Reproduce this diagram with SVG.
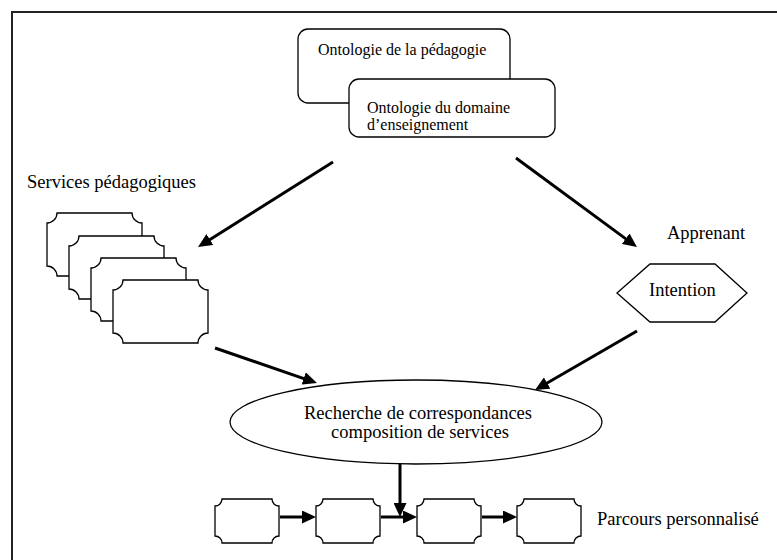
<svg xmlns="http://www.w3.org/2000/svg" width="777" height="560" viewBox="0 0 777 560">
  <style>
    .frame { fill: none; stroke: #222; stroke-width: 2; }
    .shape { fill: #fff; stroke: #000; stroke-width: 1.3; }
    text { font-family: 'Liberation Serif', 'Tinos', 'Times New Roman', 'DejaVu Serif', serif; fill: #000; }
    .lbl { font-size: 18.5px; }
    .lbl-sm { font-size: 16px; }
    .mid { text-anchor: middle; }
    .arrow { fill: none; stroke: #000; stroke-width: 3; marker-end: url(#head); }
  </style>
  <defs>
    <marker id="head" markerUnits="userSpaceOnUse" markerWidth="14" markerHeight="13" refX="4" refY="6.5" orient="auto">
      <path d="M0,0 L14,6.5 L0,13 Z" fill="#000"/>
    </marker>
    <!-- plaque outline with concave corners, large (service stack) -->
    <path id="plaque-lg" d="M10,0 H85 A10 10 0 0 0 95,10 V53 A10 10 0 0 0 85,63 H10 A10 10 0 0 0 0,53 V10 A10 10 0 0 0 10,0 Z"/>
    <!-- plaque outline, small (path steps) -->
    <path id="plaque-sm" d="M7,0 H57 A7 7 0 0 0 64,7 V37 A7 7 0 0 0 57,44 H7 A7 7 0 0 0 0,37 V7 A7 7 0 0 0 7,0 Z"/>
  </defs>

  <rect width="777" height="560" fill="#fff"/>
  <path class="frame" d="M12,560 V12 H777"/>

  <g id="ontologie-pedagogie">
    <rect class="shape" x="298" y="29" width="212" height="74" rx="10" ry="10"/>
    <text class="lbl-sm" x="318" y="55" font-family="Liberation Serif, serif">Ontologie de la pédagogie</text>
  </g>

  <g id="ontologie-domaine">
    <rect class="shape" x="349" y="79" width="206" height="58" rx="10" ry="10"/>
    <text class="lbl-sm" x="367" y="112.5" font-family="Liberation Serif, serif">Ontologie du domaine</text>
    <text class="lbl-sm" x="367" y="130" font-family="Liberation Serif, serif">d’enseignement</text>
  </g>

  <g id="services-pedagogiques">
    <text class="lbl" x="27" y="188" font-family="Liberation Serif, serif">Services pédagogiques</text>
    <use href="#plaque-lg" class="shape" x="47" y="213"/>
    <use href="#plaque-lg" class="shape" x="69" y="236"/>
    <use href="#plaque-lg" class="shape" x="91" y="258"/>
    <use href="#plaque-lg" class="shape" x="113" y="280"/>
  </g>

  <g id="apprenant">
    <text class="lbl" x="667" y="239" font-family="Liberation Serif, serif">Apprenant</text>
    <polygon class="shape" points="617,293 650,264 715,264 747,293 715,322 650,322"/>
    <text class="lbl" x="649" y="296" font-family="Liberation Serif, serif">Intention</text>
  </g>

  <g id="recherche">
    <ellipse class="shape" cx="416" cy="422" rx="186" ry="42"/>
    <text class="lbl mid" x="418" y="419" font-family="Liberation Serif, serif">Recherche de correspondances</text>
    <text class="lbl mid" x="420" y="438" font-family="Liberation Serif, serif">composition de services</text>
  </g>

  <g id="parcours">
    <use href="#plaque-sm" class="shape" x="215" y="499"/>
    <use href="#plaque-sm" class="shape" x="316" y="499"/>
    <use href="#plaque-sm" class="shape" x="417" y="499"/>
    <use href="#plaque-sm" class="shape" x="517" y="499"/>
    <text class="lbl" x="597" y="525" font-family="Liberation Serif, serif">Parcours personnalisé</text>
  </g>

  <g id="connectors">
    <line class="arrow" x1="333" y1="162" x2="206.5" y2="241.7"/>
    <line class="arrow" x1="516" y1="158" x2="628.9" y2="241.1"/>
    <line class="arrow" x1="215" y1="348" x2="307.5" y2="379.8"/>
    <line class="arrow" x1="637" y1="331" x2="543.7" y2="385"/>
    <line class="arrow" x1="400" y1="464" x2="400" y2="507"/>
    <line class="arrow" x1="280" y1="517" x2="306" y2="517"/>
    <line class="arrow" x1="381" y1="517" x2="407" y2="517"/>
    <line class="arrow" x1="482" y1="517" x2="507" y2="517"/>
  </g>
</svg>
